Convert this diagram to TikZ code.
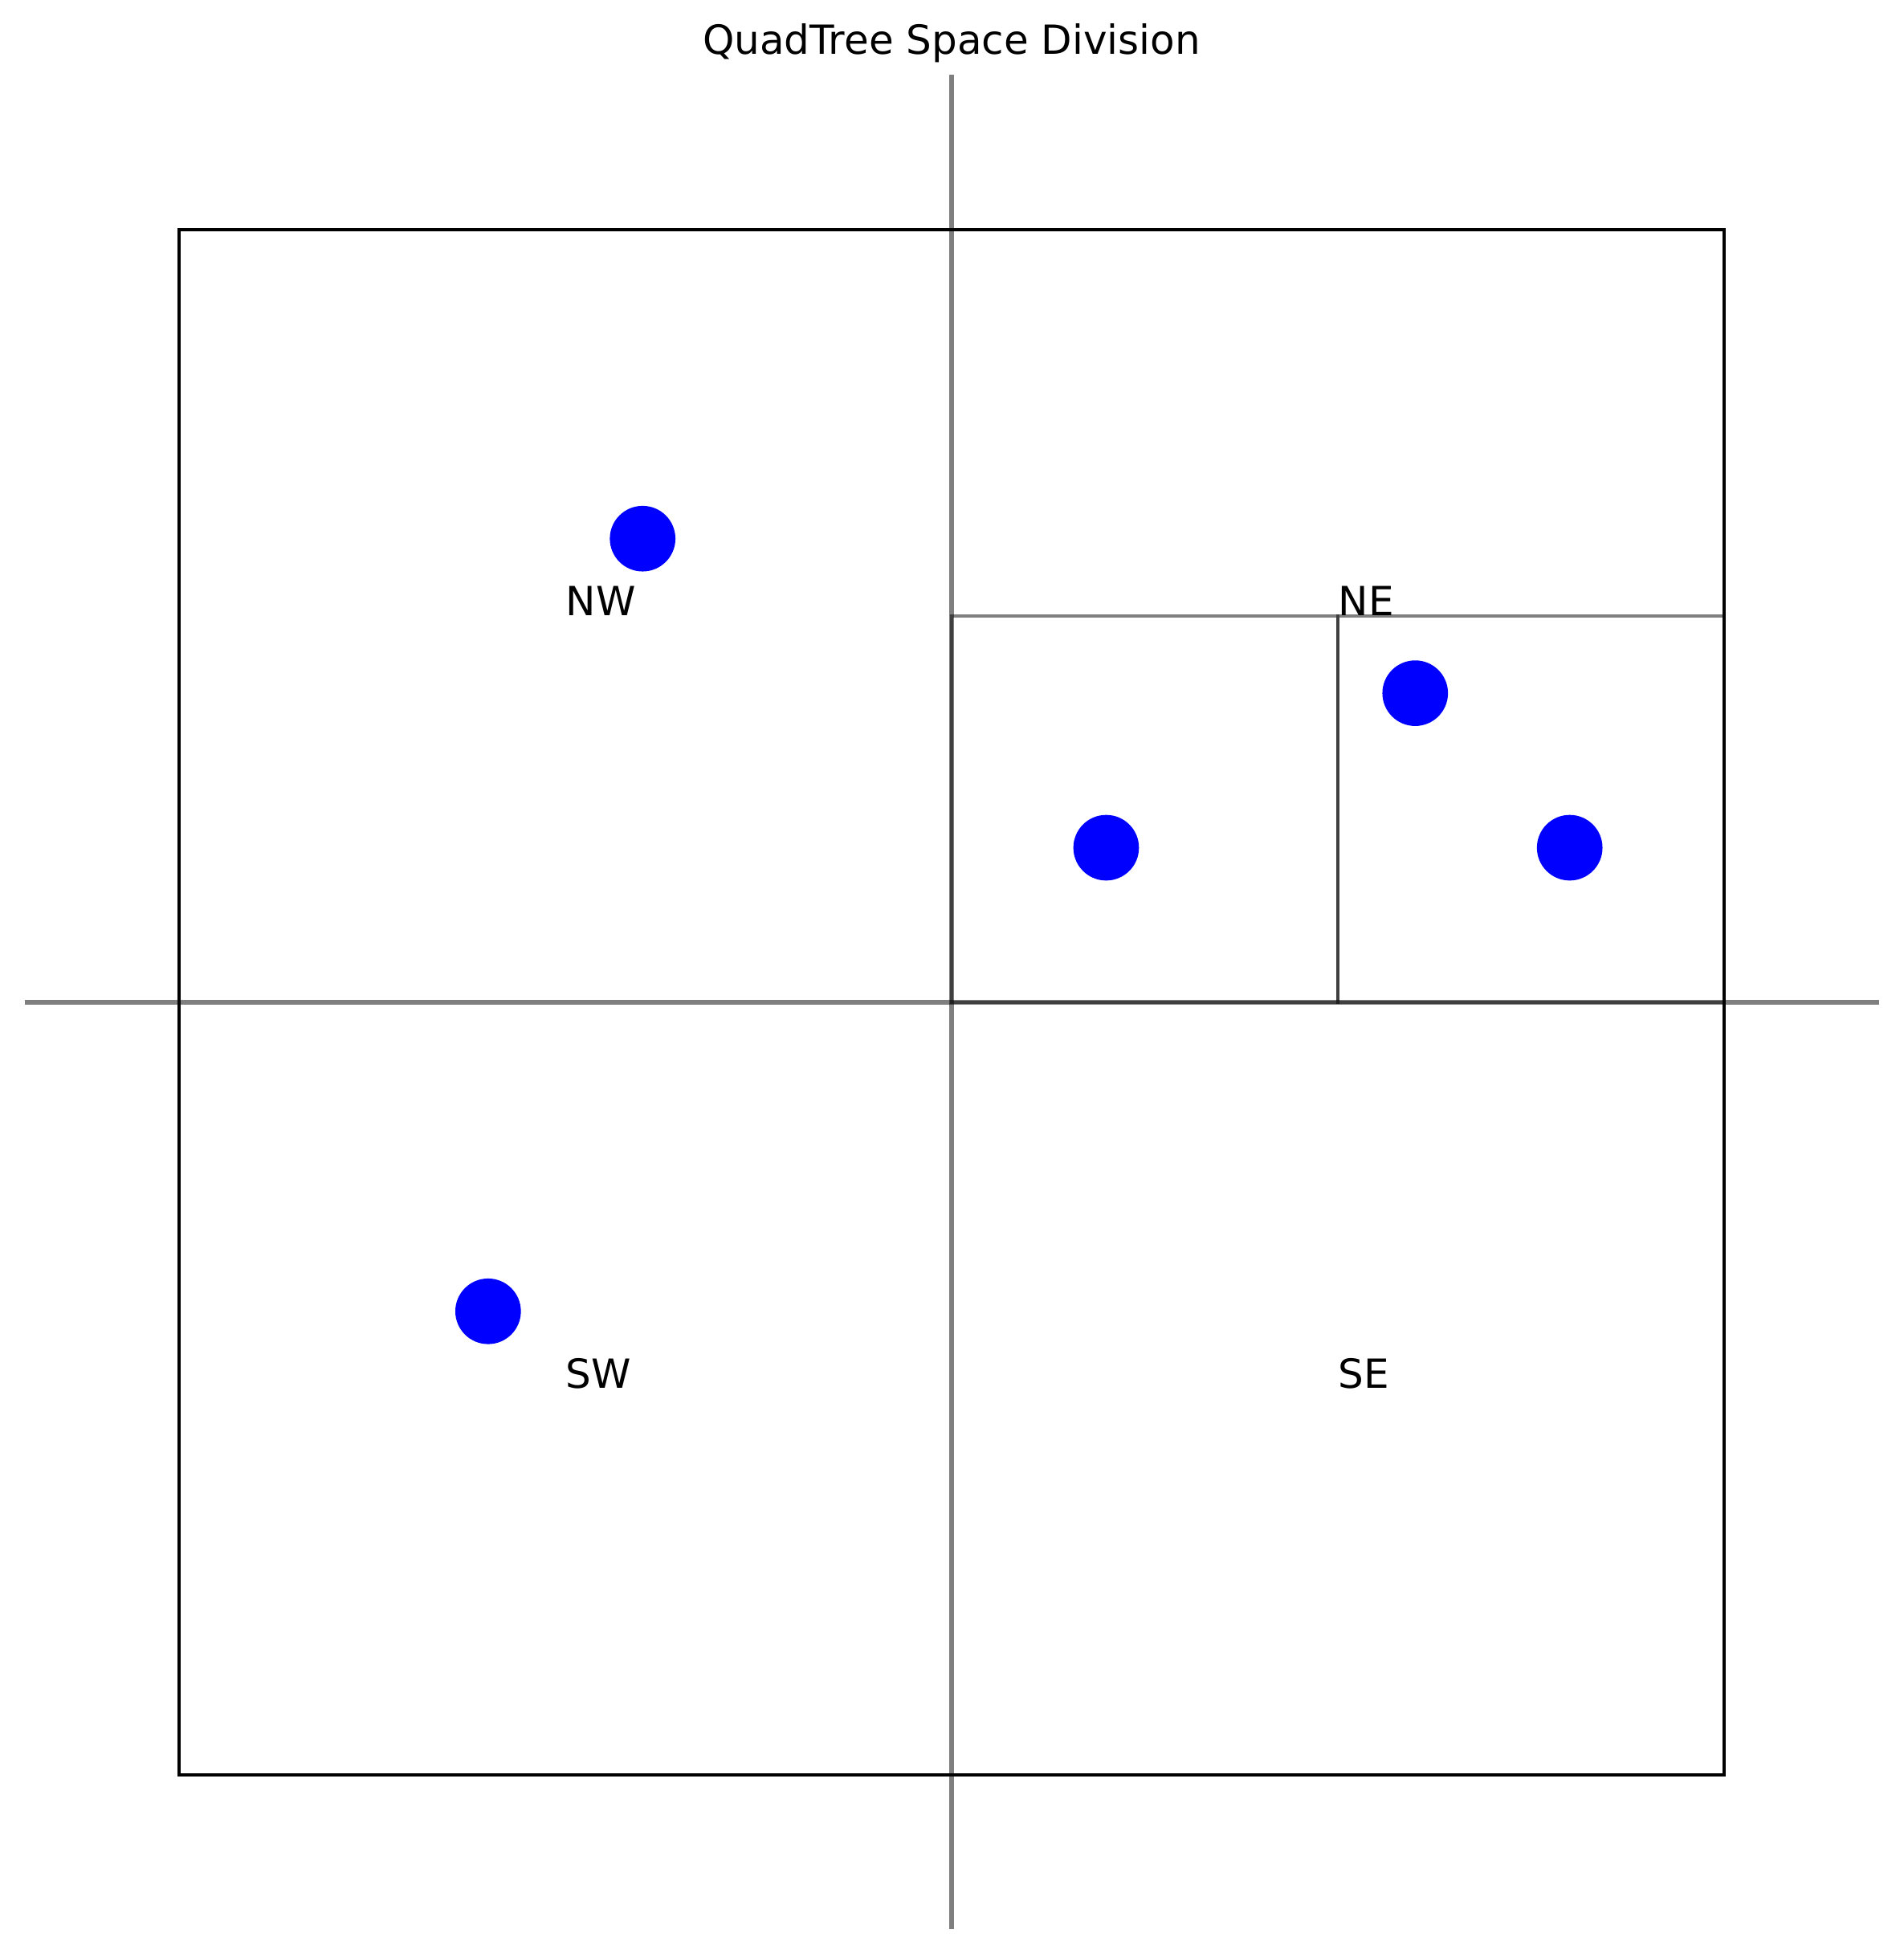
\documentclass[tikz,border=0pt]{standalone}
\usepackage{fontspec}
\setmainfont{DejaVu Sans}
\begin{document}
\begin{tikzpicture}[x=4.6176pt,y=4.6176pt,
  outerbox/.style={draw=black,line width=1pt},
  cellbox/.style={draw=black,draw opacity=0.5,line width=1pt},
  axisline/.style={draw=black,draw opacity=0.5,line width=1.5pt},
  datapt/.style={circle,fill=blue,draw=none,minimum size=19.6pt,inner sep=0pt},
  lbl/.style={anchor=base west,inner sep=0pt,font=\fontsize{12}{14}\selectfont},
  ttl/.style={anchor=base,inner sep=0pt,font=\fontsize{12}{14}\selectfont}]
\useasboundingbox (-11.59,-11.59) rectangle (111.59,114.86);
% outer square
\draw[outerbox] (0,0) rectangle (100,100);
% subdivided cells
\draw[cellbox] (50,50) rectangle (75,75);
\draw[cellbox] (75,50) rectangle (100,75);
% axis lines
\coordinate (vtop) at (50,110);
\coordinate (vbot) at (50,-10);
\coordinate (hl) at (-10,50);
\coordinate (hr) at (110,50);
\draw[axisline] (vtop) -- (vbot);
\draw[axisline] (hl) -- (hr);
% points
\node[datapt] (p1) at (30,80) {};
\node[datapt] (p2) at (60,60) {};
\node[datapt] (p3) at (80,70) {};
\node[datapt] (p4) at (90,60) {};
\node[datapt] (p5) at (20,30) {};
% labels
\node[lbl] (nw) at (25,75) {NW};
\node[lbl] (ne) at (75,75) {NE};
\node[lbl] (sw) at (25,25) {SW};
\node[lbl] (se) at (75,25) {SE};
\node[ttl] (title) at (50,111.33) {QuadTree Space Division};
\end{tikzpicture}
\end{document}
